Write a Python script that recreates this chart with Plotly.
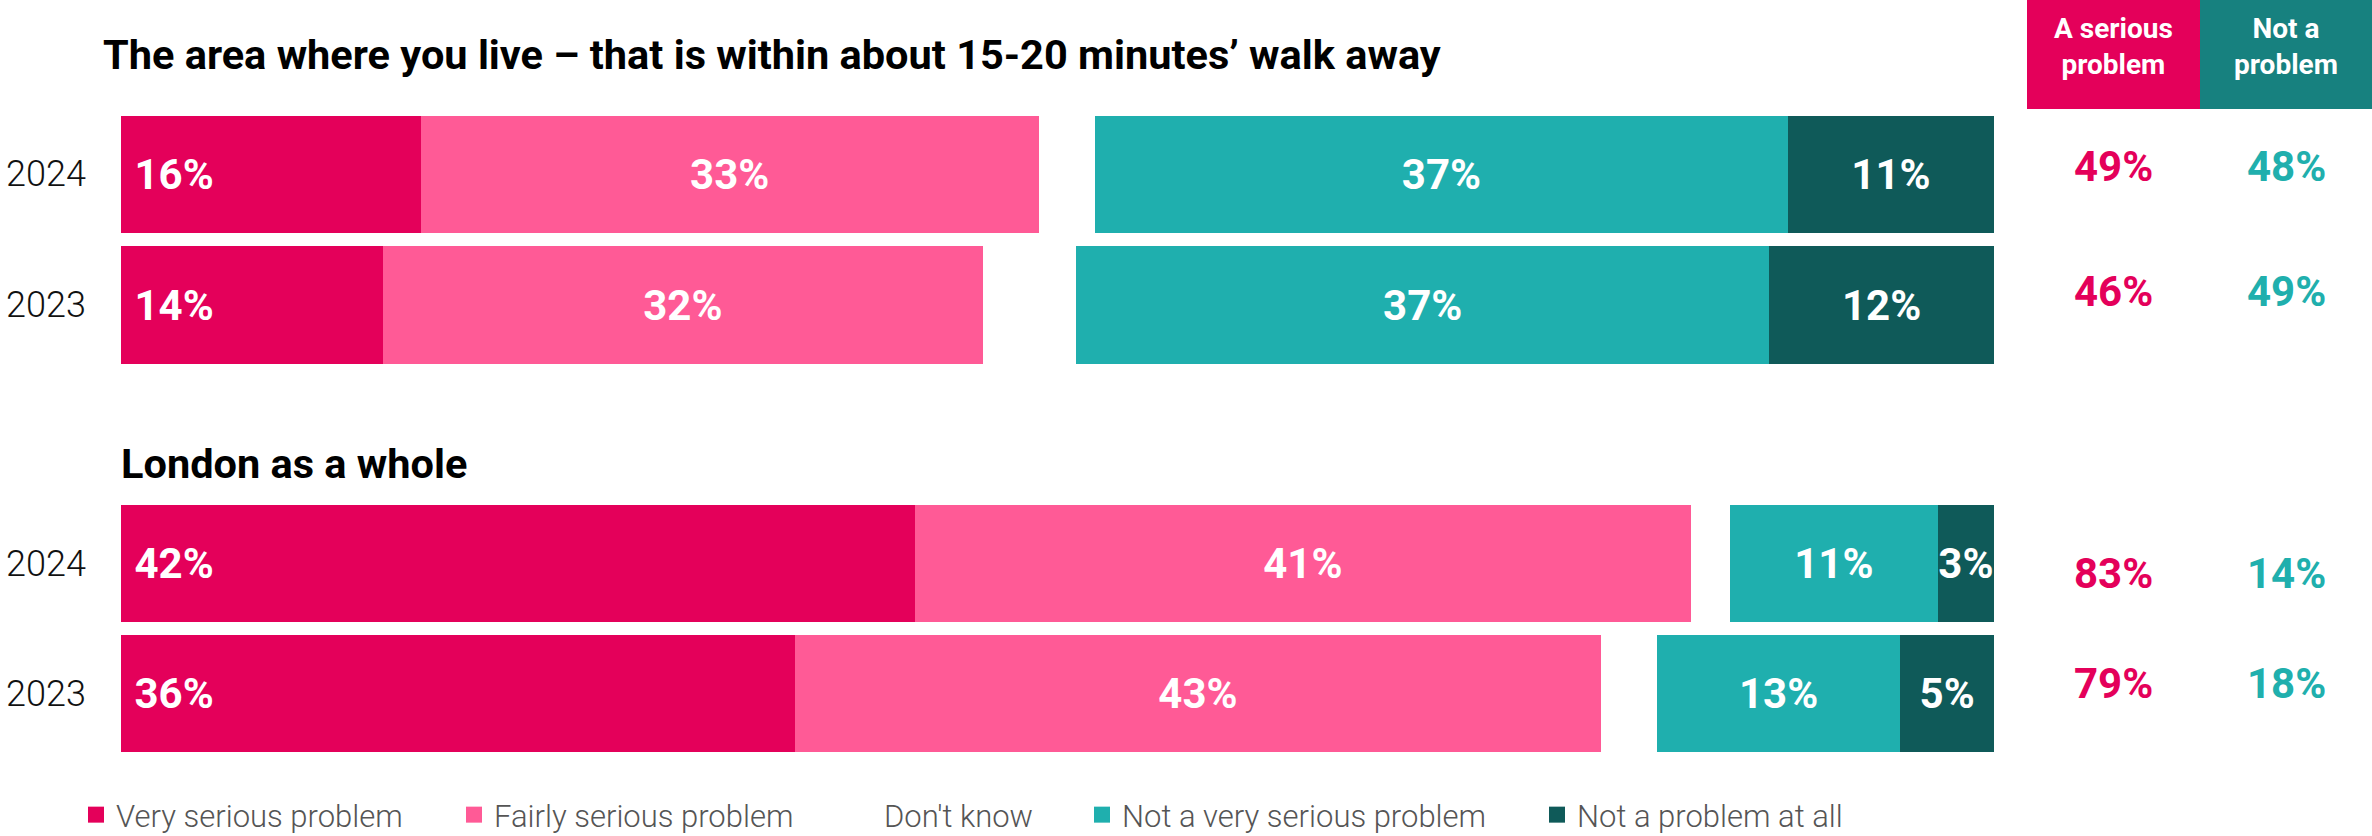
import plotly.graph_objects as go

# ---------------- data ----------------
years = ["2024", "2023"]
categories = ["Very serious problem", "Fairly serious problem", "Don't know",
              "Not a very serious problem", "Not a problem at all"]

panel_titles = ["The area where you live \u2013 that is within about 15-20 minutes\u2019 walk away",
                "London as a whole"]

area_very = [16, 14]
area_fairly = [33, 32]
area_dont_know = [3, 5]
area_not_very = [37, 37]
area_not_at_all = [11, 12]

london_very = [42.4, 36]
london_fairly = [41.4, 43]
london_dont_know = [2.1, 3]
london_not_very = [11.1, 13]
london_not_at_all = [3.0, 5]

area_serious_total = [49, 46]
area_not_total = [48, 49]
london_serious_total = [83, 79]
london_not_total = [14, 18]

header_labels = ["A serious<br>problem", "Not a<br>problem"]

# ---------------- styles ----------------
W, H = 2372, 836
colors = ["#E4005A", "#FF5A96", "#FFFFFF", "#1FAFAE", "#0F5A59"]
head_colors = ["#E4005A", "#17817F"]
sum_colors = ["#E4005A", "#20AFAD"]
FONT = "Roboto"
label_font = dict(family=FONT, size=42, color="white", weight="bold")
legend_x_px = [76, 454, 844, 1082, 1537]


def px_x(p):
    return p / W


def px_y(p):
    return 1 - p / H


fig = go.Figure()

panels = [
    ("y", "x", [area_very, area_fairly, area_dont_know, area_not_very, area_not_at_all]),
    ("y2", "x2", [london_very, london_fairly, london_dont_know, london_not_very, london_not_at_all]),
]

for yref, xref, series in panels:
    for ci, (cat, vals) in enumerate(zip(categories, series)):
        is_dk = cat == "Don't know"
        fig.add_trace(go.Bar(
            y=years, x=vals, orientation="h", name=cat,
            xaxis=xref, yaxis=yref,
            marker=dict(color=colors[ci], line=dict(width=0)),
            texttemplate=None if is_dk else ("\u00a0%{x:.0f}%" if ci == 0 else "%{x:.0f}%"),
            textposition="none" if is_dk else "inside",
            insidetextanchor="start" if ci == 0 else "middle",
            constraintext="none", textangle=0,
            textfont=label_font, insidetextfont=label_font,
            showlegend=False, hoverinfo="skip" if is_dk else "x+name",
            cliponaxis=False,
        ))

# legend entries (square swatches), one legend per entry so each can be placed
legend_names = ["legend", "legend2", "legend3", "legend4", "legend5"]
for ci, cat in enumerate(categories):
    fig.add_trace(go.Scatter(
        x=[None], y=[None], mode="markers", name=cat,
        marker=dict(symbol="square", size=16, color=colors[ci]),
        showlegend=True, xaxis="x3", yaxis="y3", legend=legend_names[ci],
    ))

annotations = []
# panel titles
annotations.append(dict(text=panel_titles[0], xref="paper", yref="paper",
                        x=px_x(101), y=px_y(55), xanchor="left", yanchor="middle",
                        showarrow=False, font=dict(family=FONT, size=41.5, color="black", weight="bold")))
annotations.append(dict(text=panel_titles[1], xref="paper", yref="paper",
                        x=px_x(119), y=px_y(463), xanchor="left", yanchor="middle",
                        showarrow=False, font=dict(family=FONT, size=41.5, color="black", weight="bold")))

# year labels (y given as category index on the category axes)
for yref in ["y", "y2"]:
    for i, yr in enumerate(years):
        annotations.append(dict(text=yr, xref="paper", yref=yref, x=px_x(88), y=i,
                                xanchor="right", yanchor="middle", showarrow=False,
                                font=dict(family=FONT, size=36, color="#111111", weight=300)))

# header boxes and labels
shapes = []
head_x = [(2027, 2200), (2200, 2372)]
for hi, (x0, x1) in enumerate(head_x):
    shapes.append(dict(type="rect", xref="paper", yref="paper", x0=px_x(x0), x1=px_x(x1),
                       y0=px_y(109), y1=1, fillcolor=head_colors[hi], line=dict(width=0), layer="below"))
    annotations.append(dict(text=header_labels[hi], xref="paper", yref="paper",
                            x=px_x((x0 + x1) / 2), y=px_y(46), xanchor="center", yanchor="middle",
                            showarrow=False, align="center",
                            font=dict(family=FONT, size=28, color="white", weight="bold")))

# summary totals
sum_shift = {("y", 0): 8, ("y", 1): 13, ("y2", 0): -10, ("y2", 1): 10}
for yref, ser, notp in [("y", area_serious_total, area_not_total),
                        ("y2", london_serious_total, london_not_total)]:
    for i, yr in enumerate(years):
        for hi, val in enumerate([ser[i], notp[i]]):
            x0, x1 = head_x[hi]
            annotations.append(dict(text=f"{val}%", xref="paper", yref=yref,
                                    x=px_x((x0 + x1) / 2), y=i, xanchor="center", yanchor="middle",
                                    yshift=sum_shift[(yref, i)], showarrow=False,
                                    font=dict(family=FONT, size=42, color=sum_colors[hi], weight="bold")))

xdom = [px_x(121), px_x(1994)]
legend_font = dict(family=FONT, size=31, color="#555555", weight=300)
legend_layout = {}
for li, lname in enumerate(legend_names):
    legend_layout[lname] = dict(orientation="h", x=px_x(legend_x_px[li]), y=px_y(815),
                                xanchor="left", yanchor="middle", font=legend_font,
                                itemclick=False, itemdoubleclick=False,
                                bgcolor="rgba(0,0,0,0)")

fig.update_layout(
    width=W, height=H,
    margin=dict(l=0, r=0, t=0, b=0, autoexpand=False),
    paper_bgcolor="white", plot_bgcolor="white",
    barmode="stack", bargap=0.1,
    xaxis=dict(domain=xdom, range=[0, 100], visible=False, fixedrange=True, anchor="y"),
    xaxis2=dict(domain=xdom, range=[0, 100], visible=False, anchor="y2", fixedrange=True),
    xaxis3=dict(domain=[0, 0.01], visible=False, anchor="y3"),
    yaxis=dict(domain=[px_y(370.25), px_y(109.25)], type="category",
               categoryorder="array", categoryarray=years,
               range=[1.5, -0.5], visible=False, anchor="x", fixedrange=True),
    yaxis2=dict(domain=[px_y(758.5), px_y(498.5)], type="category",
                categoryorder="array", categoryarray=years,
                range=[1.5, -0.5], visible=False, anchor="x2", fixedrange=True),
    yaxis3=dict(domain=[0, 0.01], visible=False, anchor="x3"),
    showlegend=True,
    annotations=annotations,
    shapes=shapes,
    **legend_layout,
)

fig.write_html("out.html",
               config={"displayModeBar": False},
               post_script="document.body.style.margin='0';document.body.style.overflow='hidden';")
